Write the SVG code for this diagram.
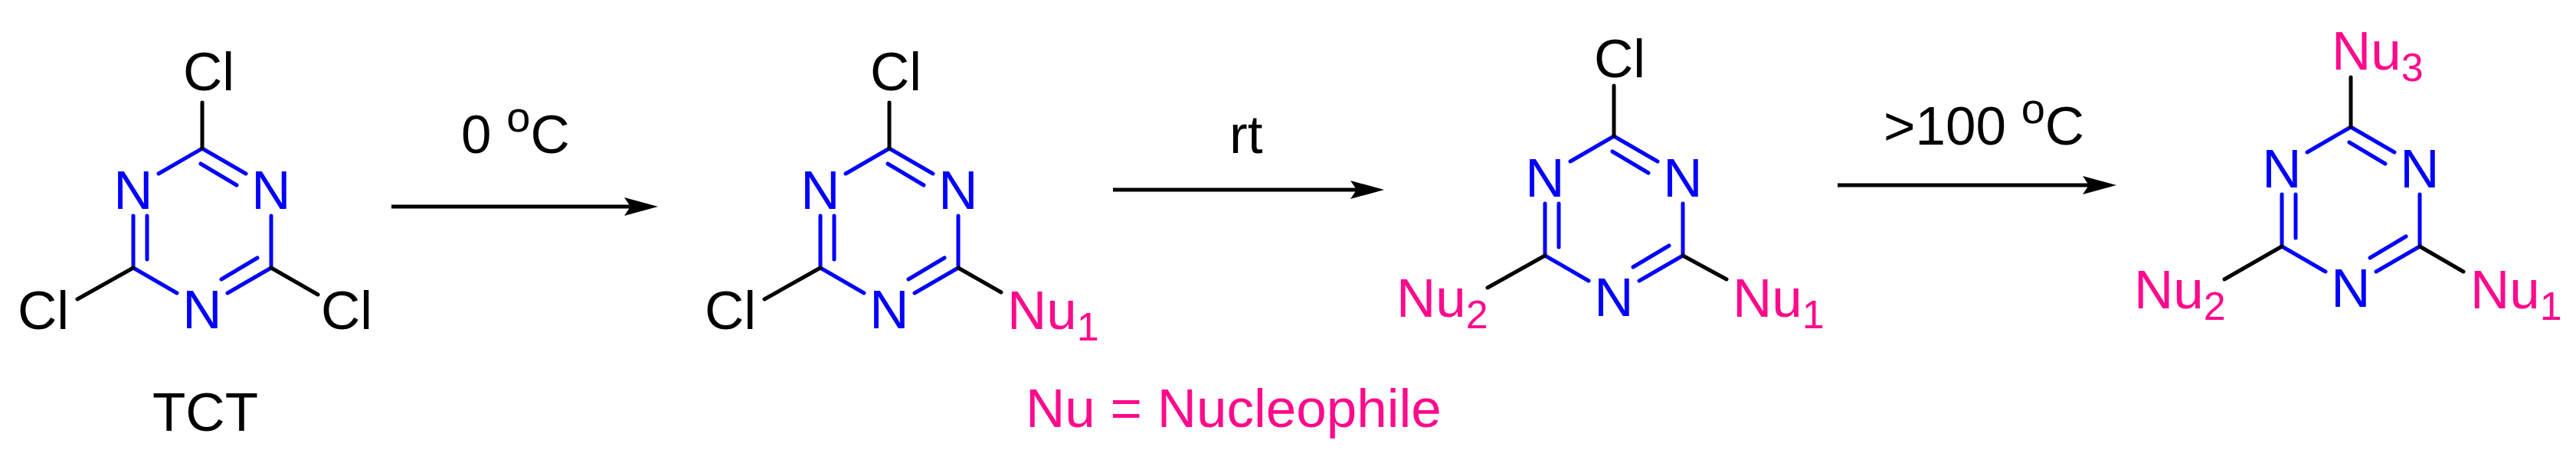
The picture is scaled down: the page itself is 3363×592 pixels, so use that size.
<svg xmlns="http://www.w3.org/2000/svg" width="3363" height="592" viewBox="0 0 3363 592">
<style>
text{font-family:"Liberation Sans",Arial,sans-serif;font-size:71px}
.k{fill:#000}.n{fill:#0000FF}.p{fill:#FF0A8C}
.b{stroke:#0000FF;stroke-width:5;stroke-linecap:round;fill:none}
.s{stroke:#000;stroke-width:5;stroke-linecap:round;fill:none}
.a{stroke:#000;stroke-width:5;fill:none}
.sub{font-size:52px}
</style>
<defs>
<marker id="ah" markerUnits="userSpaceOnUse" viewBox="0 0 44 24" refX="14" refY="12" markerWidth="44" markerHeight="24" orient="auto">
<path d="M0,0 L44,12 L0,24 L8,12 Z" fill="#000"/>
</marker>
<g id="ring">
<path class="b" d="M0,0 L-57,33 M0,0 L57,33 M-90,88 L-90,156 M90,88 L90,156 M-90,156 L-33,189 M90,156 L33,189 M-2,20 L45,48 M-72,88 L-72,145 M25,171 L72,143"/>
<text class="n" x="-90" y="79" text-anchor="middle">N</text>
<text class="n" x="90" y="79" text-anchor="middle">N</text>
<text class="n" x="0" y="235" text-anchor="middle">N</text>
</g>
</defs>
<g id="tct">
<use href="#ring" x="264" y="194"/>
<path class="s" d="M264,134 L264,194 M174,350 L101,391 M354,350 L415,385"/>
<text class="k" x="239" y="118">Cl</text>
<text class="k" x="23" y="430">Cl</text>
<text class="k" x="419" y="430">Cl</text>
<text class="k" x="268" y="563" text-anchor="middle">TCT</text>
</g>
<g id="mono">
<use href="#ring" x="1161" y="194"/>
<path class="s" d="M1161,134 L1161,194 M1071,350 L998,391 M1251,350 L1307,382"/>
<text class="k" x="1136" y="118">Cl</text>
<text class="k" x="920" y="430">Cl</text>
<text class="p" x="1315" y="430">Nu<tspan class="sub" dy="15">1</tspan></text>
</g>
<g id="di">
<use href="#ring" x="2107" y="178"/>
<path class="s" d="M2107,112 L2107,178 M2017,334 L1942,376 M2197,334 L2254,365"/>
<text class="k" x="2081" y="101">Cl</text>
<text class="p" x="1823" y="414">Nu<tspan class="sub" dy="15">2</tspan></text>
<text class="p" x="2262" y="414">Nu<tspan class="sub" dy="15">1</tspan></text>
</g>
<g id="tri">
<use href="#ring" x="3069" y="166"/>
<path class="s" d="M3069,101 L3069,166 M2979,322 L2904,365 M3159,322 L3216,355"/>
<text class="p" x="3044" y="91">Nu<tspan class="sub" dy="15">3</tspan></text>
<text class="p" x="2786" y="403">Nu<tspan class="sub" dy="15">2</tspan></text>
<text class="p" x="3225" y="403">Nu<tspan class="sub" dy="15">1</tspan></text>
</g>
<g id="connectors">
<line class="a" x1="511" y1="270" x2="829" y2="270" marker-end="url(#ah)"/>
<line class="a" x1="1453" y1="248" x2="1777" y2="248" marker-end="url(#ah)"/>
<line class="a" x1="2399" y1="242" x2="2733" y2="242" marker-end="url(#ah)"/>
</g>
<g id="labels">
<text class="k" x="602" y="200">0 <tspan font-size="56" dy="-28">o</tspan><tspan dy="28">C</tspan></text>
<text class="k" x="1605" y="200">rt</text>
<text class="k" x="2459" y="189">&gt;100 <tspan font-size="56" dy="-28">o</tspan><tspan dy="28">C</tspan></text>
<text class="p" x="1339" y="558">Nu = Nucleophile</text>
</g>
</svg>
